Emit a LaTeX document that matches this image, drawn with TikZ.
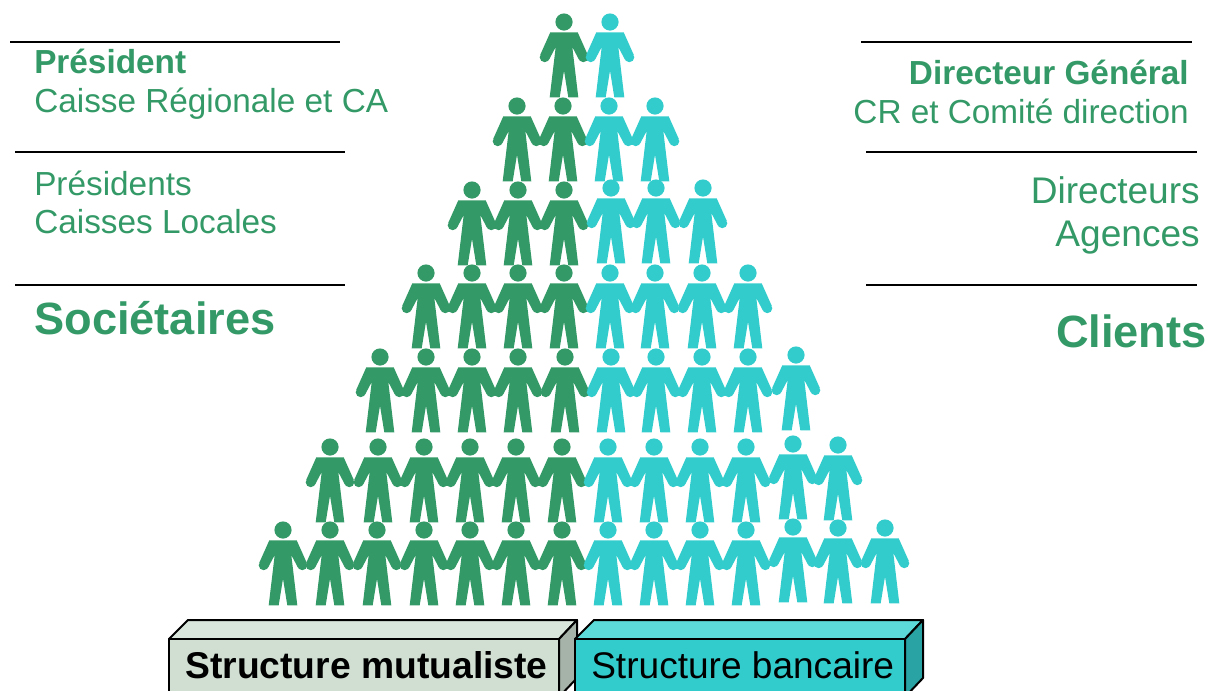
\documentclass[tikz,border=0pt]{standalone}
\usepackage{fontspec}
\setmainfont{Liberation Sans}
\definecolor{mangreen}{HTML}{339966}
\definecolor{manteal}{HTML}{33CCCC}
\definecolor{boxfront}{HTML}{D0DFD2}
\definecolor{boxtop}{HTML}{D9E6DC}
\definecolor{boxside}{HTML}{A6B3A8}
\definecolor{tealtop}{HTML}{5CD9D9}
\definecolor{tealside}{HTML}{29A3A3}
\tikzset{
  person/.pic={
    \fill[pic actions] (0,0) circle[radius=8.6];
    \fill[pic actions] (-13.7,10.3) -- (13.7,10.3) -- (23.7,32.7) -- (15,37.7) -- (8.3,25)
      -- (14.3,75.3) -- (4.3,75.3) -- (0,48.7) -- (-4.3,75.3) -- (-14.3,75.3) -- (-8.3,25)
      -- (-15,37.7) -- (-23.7,32.7) -- cycle;
    \fill[pic actions] (-19.3,35.2) circle[radius=5];
    \fill[pic actions] (19.3,35.2) circle[radius=5];
  },
  rule/.style={line width=1.5pt,black},
  lab/.style={inner sep=0pt,text=mangreen},
  labL/.style={lab,anchor=base west},
  labR/.style={lab,anchor=base east},
  boxedge/.style={draw=black,line width=1.5pt,line join=round},
  boxlab/.style={inner sep=0pt,anchor=base west,text=black,font=\fontsize{27.8pt}{30pt}\selectfont},
}
\begin{document}
\begin{tikzpicture}[x=0.75pt,y=-0.75pt]
\useasboundingbox (0,0) rectangle (1215,690);
\clip (0,0) rectangle (1215,690);
% rules
\foreach \a/\b/\y in {10/340/42,15/345/152,15/345/285,861/1192/42,866/1197/152,866/1197/285}
  \draw[rule] (\a,\y) -- (\b,\y);
% left labels
\node[labL,font=\fontsize{25pt}{26pt}\selectfont\bfseries] (pres) at (34,73) {Président};
\node[labL,font=\fontsize{25pt}{26pt}\selectfont] (caisse) at (34,112) {Caisse Régionale et CA};
\node[labL,font=\fontsize{25pt}{26pt}\selectfont] (press) at (34,195) {Présidents};
\node[labL,font=\fontsize{25pt}{26pt}\selectfont] (locales) at (34,233) {Caisses Locales};
\node[labL,font=\fontsize{33.9pt}{35pt}\selectfont\bfseries] (soc) at (34,334) {Sociétaires};
% right labels
\node[labR,font=\fontsize{25pt}{26pt}\selectfont\bfseries] (dg) at (1189,84) {Directeur Général};
\node[labR,font=\fontsize{25pt}{26pt}\selectfont] (cr) at (1189,123) {CR et Comité direction};
\node[labR,font=\fontsize{27.8pt}{29pt}\selectfont] (dirs) at (1200,203) {Directeurs};
\node[labR,font=\fontsize{27.8pt}{29pt}\selectfont] (ag) at (1200,246) {Agences};
\node[labR,font=\fontsize{33.9pt}{35pt}\selectfont\bfseries] (cl) at (1207,347) {Clients};
% green people
\foreach \x/\y in {564/22,
  517/106,563/106,
  472/190,518/190,564/190,
  426/273,472/273,518/273,564/273,
  380/357,426/357,472/357,518/357,565/357,
  330/447,378/447,424/447,470/447,516/447,562/447,
  283/530,330/530,377/530,424/530,470/530,516/530,562/530}
  \pic[fill=mangreen] at (\x,\y) {person};
% teal people
\foreach \x/\y in {610/22,
  609/106,655/106,
  611/188,656/188,703/188,
  610/273,655/273,702/273,748/273,
  611/357,656/357,702/357,748/357,796/355,
  608/447,654/447,700/447,746/447,793/444,838/445,
  608/530,654/530,700/530,746/530,793/527,838/528,885/528}
  \pic[fill=manteal] at (\x,\y) {person};
% boxes
\path[boxedge,fill=boxtop] (169,639) -- (188,620) -- (577,620) -- (559,639) -- cycle;
\path[boxedge,fill=boxside] (559,639) -- (577,620) -- (577,678) -- (559,697) -- cycle;
\path[boxedge,fill=boxfront] (169,639) rectangle (559,700);
\path[boxedge,fill=tealtop] (575,639) -- (594,620) -- (923,620) -- (905,639) -- cycle;
\path[boxedge,fill=tealside] (905,639) -- (923,620) -- (923,678) -- (905,697) -- cycle;
\path[boxedge,fill=manteal] (575,639) rectangle (905,700);
\node[boxlab,font=\fontsize{27.95pt}{30pt}\selectfont\bfseries] (mut) at (185,678) {Structure mutualiste};
\node[boxlab] (banc) at (591,678) {Structure bancaire};
\end{tikzpicture}
\end{document}
